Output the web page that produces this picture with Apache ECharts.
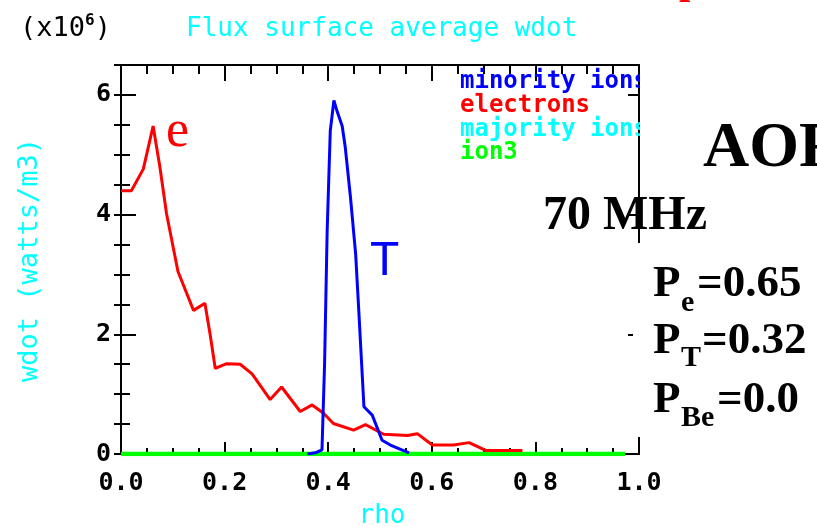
<!DOCTYPE html>
<html>
<head>
<meta charset="utf-8">
<script src="https://cdn.jsdelivr.net/npm/echarts@6/dist/echarts.min.js"></script>
<style>
html,body{margin:0;padding:0;background:#fff;}
#c{width:817px;height:527px;}
</style>
</head>
<body>
<div id="c"></div>
<script>
// ---- data ----
const rhoElectrons  = [0, 0.02, 0.043, 0.062, 0.075, 0.088, 0.11, 0.14, 0.162, 0.172, 0.182, 0.204, 0.23, 0.253, 0.288, 0.31, 0.346, 0.369, 0.391, 0.41, 0.449, 0.472, 0.507, 0.553, 0.572, 0.601, 0.642, 0.672, 0.704, 0.775];
const wdotElectrons = [4.4, 4.4, 4.76, 5.48, 4.8, 4.01, 3.05, 2.4, 2.52, 2.0, 1.43, 1.51, 1.5, 1.34, 0.91, 1.12, 0.71, 0.82, 0.68, 0.51, 0.40, 0.49, 0.33, 0.31, 0.34, 0.15, 0.15, 0.19, 0.06, 0.06];

const rhoMinority  = [0.36, 0.375, 0.388, 0.393, 0.398, 0.404, 0.411, 0.417, 0.427, 0.433, 0.443, 0.453, 0.459, 0.469, 0.485, 0.504, 0.52, 0.556];
const wdotMinority = [0.0, 0.02, 0.07, 1.5, 3.73, 5.4, 5.91, 5.73, 5.48, 5.12, 4.29, 3.34, 2.4, 0.79, 0.65, 0.23, 0.15, 0.02];

const rhoMajority  = [0, 0.973];
const wdotMajority = [0, 0];
const rhoIon3  = [0, 0.973];
const wdotIon3 = [0, 0];

const xTicks = [0.0, 0.2, 0.4, 0.6, 0.8, 1.0];
const yTicks = [0, 2, 4, 6];
const legendNames = ['minority ions', 'electrons', 'majority ions', 'ion3'];

const pair = (xs, ys) => xs.map((x, i) => [x, ys[i]]);

const MONO = '"DejaVu Sans Mono", monospace';
const SERIF = '"Liberation Serif", "Times New Roman", serif';
const SANS = '"Liberation Sans", Arial, sans-serif';
const CYAN = '#00FFFF';

const chart = echarts.init(document.getElementById('c'), null, {renderer: 'canvas'});

const tickLine = {color: '#000', width: 2};
const baseX = {
  type: 'value', min: 0, max: 1, interval: 0.2,
  axisLine: {show: true, onZero: false, lineStyle: tickLine},
  splitLine: {show: false}
};
const baseY = {
  type: 'value', min: 0, max: 6.5,
  axisLine: {show: true, onZero: false, lineStyle: tickLine},
  splitLine: {show: false}
};

const txt = (x, y, text, fill, font, extra) => ({
  type: 'text', x: x, y: y, z: 40,
  style: Object.assign({text: text, fill: fill, font: font, textVerticalAlign: 'middle'}, extra || {})
});

chart.setOption({
  animation: false,
  backgroundColor: '#fff',
  grid: {left: 121, right: 178, top: 65, bottom: 73, containLabel: false},
  xAxis: [
    Object.assign({}, baseX, {
      position: 'bottom',
      axisTick: {show: true, inside: true, length: 12, lineStyle: tickLine},
      minorTick: {show: true, splitNumber: 4, length: 6, lineStyle: tickLine},
      axisLabel: {
        show: true, margin: 17, color: '#000',
        fontFamily: MONO, fontWeight: 'bold', fontSize: 25,
        formatter: v => {
          const t = xTicks.find(k => Math.abs(k - v) < 1e-6);
          return t === undefined ? '' : t.toFixed(1);
        }
      }
    }),
    Object.assign({}, baseX, {
      position: 'top',
      axisTick: {show: true, inside: true, length: 16, lineStyle: tickLine},
      minorTick: {show: true, splitNumber: 4, length: 9, lineStyle: tickLine},
      axisLabel: {show: false}
    })
  ],
  yAxis: [
    Object.assign({}, baseY, {
      position: 'left', interval: 2,
      axisTick: {show: true, inside: true, length: 15, lineStyle: tickLine},
      axisLabel: {
        show: true, margin: 10, color: '#000', showMaxLabel: false,
        fontFamily: MONO, fontWeight: 'bold', fontSize: 25,
        formatter: v => {
          const t = yTicks.find(k => Math.abs(k - v) < 1e-6);
          return t === undefined ? '' : String(t);
        }
      }
    }),
    Object.assign({}, baseY, {
      position: 'left', interval: 0.5,
      axisLine: {show: false},
      axisTick: {show: true, inside: true, length: 9, lineStyle: tickLine},
      axisLabel: {show: false}
    }),
    Object.assign({}, baseY, {
      position: 'right', interval: 2,
      axisTick: {show: true, inside: true, length: 11, lineStyle: tickLine},
      axisLabel: {show: false}
    }),
    Object.assign({}, baseY, {
      position: 'right', interval: 0.5,
      axisLine: {show: false},
      axisTick: {show: true, inside: true, length: 7, lineStyle: tickLine},
      axisLabel: {show: false}
    })
  ],
  series: [
    {name: legendNames[2], type: 'line', data: pair(rhoMajority, wdotMajority), symbol: 'none',
     lineStyle: {color: CYAN, width: 4}, z: 2},
    {name: legendNames[3], type: 'line', data: pair(rhoIon3, wdotIon3), symbol: 'none',
     lineStyle: {color: '#00FF00', width: 4.5}, z: 3},
    {name: legendNames[1], type: 'line', data: pair(rhoElectrons, wdotElectrons), symbol: 'none',
     lineStyle: {color: '#FF0000', width: 3}, z: 4},
    {name: legendNames[0], type: 'line', data: pair(rhoMinority, wdotMinority), symbol: 'none',
     lineStyle: {color: '#0000FF', width: 3}, z: 5}
  ],
  graphic: [
    // legend-like labels inside the plot
    Object.assign(txt(460, 82, legendNames[0], '#0000FF', 'bold 24px ' + MONO), {z: 20}),
    Object.assign(txt(460, 106, legendNames[1], '#FF0000', 'bold 24px ' + MONO), {z: 20}),
    Object.assign(txt(460, 130, legendNames[2], CYAN, 'bold 24px ' + MONO), {z: 20}),
    Object.assign(txt(460, 153, legendNames[3], '#00FF00', 'bold 24px ' + MONO), {z: 20}),
    // clip legend text at the right frame
    {type: 'rect', shape: {x: 640, y: 66, width: 62, height: 120}, z: 30, style: {fill: '#fff'}},
    // white box hiding part of right axis
    {type: 'rect', shape: {x: 633, y: 243, width: 184, height: 194}, z: 30, style: {fill: '#fff'}},
    // title and axis names
    txt(20, 29, '(x10{s|6})', '#000', '27px ' + MONO, {
      rich: {s: {fontFamily: MONO, fontSize: 16, fontWeight: 'bold', fill: '#000', padding: [0, 0, 16, 0]}}}),
    txt(186, 29, 'Flux surface average wdot', CYAN, '26px ' + MONO),
    txt(382, 516, 'rho', CYAN, '26px ' + MONO, {textAlign: 'center'}),
    Object.assign(txt(30, 260, 'wdot (watts/m3)', CYAN, '27px ' + MONO, {textAlign: 'center'}), {rotation: Math.PI / 2}),
    // curve annotations
    txt(166, 132, 'e', '#FF0000', '52px ' + SERIF),
    txt(370, 262, 'T', '#0000FF', '48px ' + SANS),
    // overlay texts on the right
    txt(679, -17, 'p', '#FF0000', 'bold 40px ' + SERIF),
    txt(703, 149, 'AOF', '#000', 'bold 64px ' + SERIF),
    txt(543, 217, '70 MHz', '#000', 'bold 48px ' + SERIF),

    txt(653, 284, 'P', '#000', 'bold 45px ' + SERIF),
    txt(681, 303, 'e', '#000', 'bold 30px ' + SERIF),
    txt(697, 284, '=0.65', '#000', 'bold 45px ' + SERIF),

    txt(653, 341, 'P', '#000', 'bold 45px ' + SERIF),
    txt(681, 358, 'T', '#000', 'bold 30px ' + SERIF),
    txt(702, 341, '=0.32', '#000', 'bold 45px ' + SERIF),

    txt(653, 400, 'P', '#000', 'bold 45px ' + SERIF),
    txt(681, 418, 'Be', '#000', 'bold 30px ' + SERIF),
    txt(717, 400, '=0.0', '#000', 'bold 45px ' + SERIF)
  ]
});
</script>
</body>
</html>
